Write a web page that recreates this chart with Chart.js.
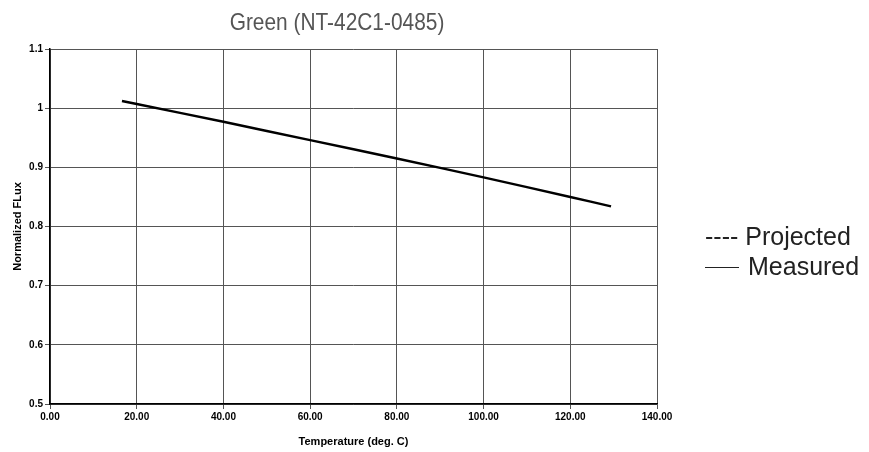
<!DOCTYPE html>
<html>
<head>
<meta charset="utf-8">
<script src="https://cdn.jsdelivr.net/npm/chart.js@4.4.0/dist/chart.umd.min.js"></script>
<style>
  html, body { margin: 0; padding: 0; background: #fff; }
  #wrap { position: relative; width: 869px; height: 452px; overflow: hidden; }
  #c { position: absolute; left: 0; top: 0; }
  #title { position: absolute; left: 337px; top: 8px; transform: translateX(-50%) scaleX(0.87);
           font-family: "Liberation Sans", Arial, sans-serif; font-size: 24px; color: #555; white-space: nowrap; }
  .leg { position: absolute; left: 705px; font-family: "Liberation Sans", Arial, sans-serif; font-size: 25px;
         color: #222; white-space: nowrap; line-height: 26px; }
  .bar { display: inline-block; width: 34px; height: 1.5px; background: #222; vertical-align: middle; margin-right: 9px; position: relative; top: -1px; }
</style>
</head>
<body>
<div id="wrap">
  <canvas id="c" width="869" height="452"></canvas>
  <div id="title">Green (NT-42C1-0485)</div>
  <div class="leg" style="top:223px;">---- Projected</div>
  <div class="leg" style="top:253px;"><span class="bar"></span>Measured</div>
</div>
<script>
const temps = [16.6, 20, 40, 60, 80, 100, 120, 129.4];
const measured = [1.012, 1.007, 0.977, 0.946, 0.915, 0.883, 0.850, 0.834];
const projected = [];
const xTitle = "Temperature (deg. C)";
const yTitle = "Normalized FLux";

const measuredPts = temps.map((t, i) => ({ x: t, y: measured[i] }));

const tickFont = { family: "'Liberation Sans', Arial, sans-serif", size: 10, weight: 'bold' };
const titleFont = { family: "'Liberation Sans', Arial, sans-serif", size: 11, weight: 'bold' };

new Chart(document.getElementById('c'), {
  type: 'line',
  data: {
    datasets: [
      { label: 'Measured', data: measuredPts, borderColor: '#000', borderWidth: 2.5,
        pointRadius: 0, tension: 0.3, fill: false },
      { label: 'Projected', data: projected, borderColor: '#000', borderWidth: 2,
        borderDash: [6, 4], pointRadius: 0, fill: false }
    ]
  },
  options: {
    responsive: false,
    animation: false,
    devicePixelRatio: 1,
    layout: { padding: { top: 49, right: 212, left: 0, bottom: 0 } },
    plugins: { legend: { display: false }, title: { display: false }, tooltip: { enabled: false } },
    scales: {
      x: {
        type: 'linear', min: 0, max: 140,
        ticks: { stepSize: 20, color: '#000', font: tickFont, padding: 2, maxRotation: 0,
                 callback: v => Number(v).toFixed(2) },
        grid: { color: '#555', lineWidth: 1, tickLength: 5 },
        border: { color: '#000', width: 1.5 },
        title: { display: true, text: xTitle, color: '#000', font: titleFont, padding: { top: 0, bottom: 3 } },
        afterFit: s => { s.height = 48; }
      },
      y: {
        min: 0.5, max: 1.1,
        ticks: { stepSize: 0.1, color: '#000', font: tickFont, padding: 2,
                 callback: v => String(parseFloat(Number(v).toFixed(1))) },
        grid: { color: '#555', lineWidth: 1, tickLength: 5 },
        border: { color: '#000', width: 1.5 },
        title: { display: true, text: yTitle, color: '#000', font: titleFont, padding: { top: 11, bottom: 0 } },
        afterFit: s => { s.width = 50; }
      }
    }
  }
});
</script>
</body>
</html>
